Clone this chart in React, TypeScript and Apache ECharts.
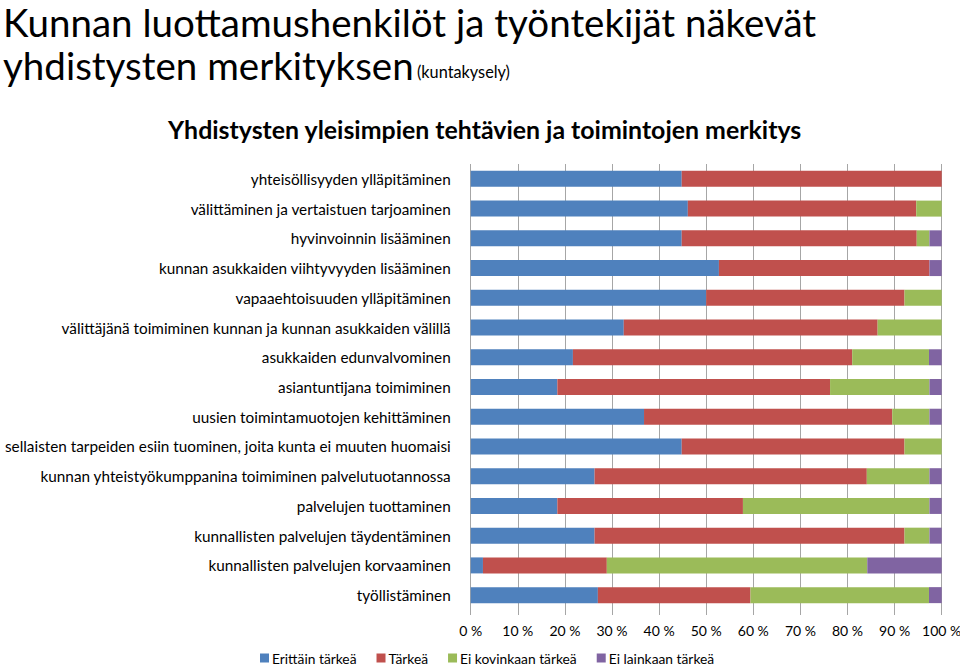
import React, { useEffect, useRef } from "react";
import * as echarts from "echarts";

const categories = [
  "yhteisöllisyyden ylläpitäminen",
  "välittäminen ja vertaistuen tarjoaminen",
  "hyvinvoinnin lisääminen",
  "kunnan asukkaiden viihtyvyyden lisääminen",
  "vapaaehtoisuuden ylläpitäminen",
  "välittäjänä toimiminen kunnan ja kunnan asukkaiden välillä",
  "asukkaiden edunvalvominen",
  "asiantuntijana toimiminen",
  "uusien toimintamuotojen kehittäminen",
  "sellaisten tarpeiden esiin tuominen, joita kunta ei muuten huomaisi",
  "kunnan yhteistyökumppanina toimiminen palvelutuotannossa",
  "palvelujen tuottaminen",
  "kunnallisten palvelujen täydentäminen",
  "kunnallisten palvelujen korvaaminen",
  "työllistäminen",
];

const seriesNames = ["Erittäin tärkeä", "Tärkeä", "Ei kovinkaan tärkeä", "Ei lainkaan tärkeä"];

const erittainTarkea = [44.8, 46.1, 44.8, 52.7, 50.0, 32.5, 21.7, 18.4, 36.8, 44.8, 26.3, 18.4, 26.3, 2.6, 27.0];
const tarkea = [55.2, 48.5, 49.9, 44.7, 42.1, 53.9, 59.3, 57.9, 52.7, 47.3, 57.8, 39.4, 65.8, 26.3, 32.4];
const eiKovinkaan = [0, 5.4, 2.7, 0, 7.9, 13.6, 16.3, 21.1, 7.9, 7.9, 13.3, 39.6, 5.3, 55.3, 37.9];
const eiLainkaan = [0, 0, 2.6, 2.6, 0, 0, 2.7, 2.6, 2.6, 0, 2.6, 2.6, 2.6, 15.8, 2.7];

const xTicks = [0, 10, 20, 30, 40, 50, 60, 70, 80, 90, 100];

const colors = ["#4F81BD", "#C0504D", "#9BBB59", "#8064A2"];

const FONT = "Lato, 'Open Sans', sans-serif";

export default function App() {
  const ref = useRef<HTMLDivElement>(null);
  useEffect(() => {
    if (!ref.current) return;
    const chart = echarts.init(ref.current, null, { renderer: "svg" });
    const values = [erittainTarkea, tarkea, eiKovinkaan, eiLainkaan];
    chart.setOption({
      animation: false,
      textStyle: { fontFamily: FONT },
      graphic: [
        {
          type: "text",
          left: 3,
          top: 2,
          style: { text: "Kunnan luottamushenkilöt ja työntekijät näkevät", font: `38.5px ${FONT}`, fill: "#000" },
        },
        {
          type: "text",
          left: 3,
          top: 45,
          style: {
            text: "{a|yhdistysten merkityksen} {b|(kuntakysely)}",
            rich: {
              a: { fontSize: 38.5, fontFamily: FONT, fill: "#000", verticalAlign: "bottom" },
              b: { fontSize: 16.3, fontFamily: FONT, fill: "#000", verticalAlign: "bottom", padding: [0, 0, 5, 0] },
            },
          },
        },
        {
          type: "text",
          left: 168,
          top: 116,
          style: {
            text: "Yhdistysten yleisimpien tehtävien ja toimintojen merkitys",
            font: `bold 24.9px ${FONT}`,
            fill: "#000",
          },
        },
      ],
      legend: {
        bottom: 0,
        left: 255,
        itemWidth: 9,
        itemHeight: 9,
        itemGap: 20,
        icon: "rect",
        textStyle: { fontSize: 13.8, fontFamily: FONT, color: "#000", padding: [0, 0, 0, -2] },
        data: seriesNames,
      },
      grid: {
        left: 470.7,
        right: 18.3,
        top: 164,
        bottom: 60,
        containLabel: false,
        outerBoundsMode: "none",
      },
      xAxis: {
        type: "value",
        min: xTicks[0],
        max: xTicks[xTicks.length - 1],
        interval: 10,
        axisLine: { show: false },
        axisTick: { show: true, length: 5, lineStyle: { color: "#A6A6A6" } },
        splitLine: { show: true, lineStyle: { color: "#A6A6A6", width: 1 } },
        axisLabel: {
          formatter: "{value} %",
          fontSize: 14,
          fontFamily: FONT,
          color: "#000",
          margin: 13,
        },
      },
      yAxis: {
        type: "category",
        inverse: true,
        data: categories,
        axisLine: { show: false },
        axisTick: { show: false },
        axisLabel: { fontSize: 15.3, fontFamily: FONT, color: "#000", margin: 20 },
      },
      series: seriesNames.map((name, i) => ({
        name,
        type: "bar",
        stack: "total",
        barWidth: 16,
        itemStyle: { color: colors[i] },
        data: values[i],
      })),
    });
    return () => chart.dispose();
  }, []);
  return <div ref={ref} style={{ width: 960, height: 670, position: "absolute", left: 0, top: 0 }} />;
}
